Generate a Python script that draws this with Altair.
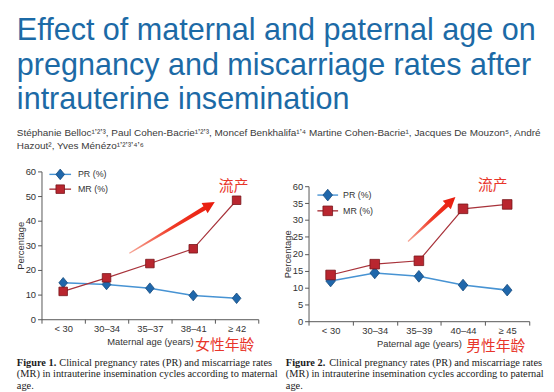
import altair as alt
import pandas as pd

# ---------------- data ----------------
series_names = ["PR (%)", "MR (%)"]

maternal_ages = ["< 30", "30–34", "35–37", "38–41", "≥ 42"]
maternal_pr = [14.8, 14.1, 12.6, 9.6, 8.5]
maternal_mr = [11.3, 16.8, 22.6, 28.6, 48.3]

paternal_ages = ["< 30", "30–34", "35–39", "40–44", "≥ 45"]
paternal_pr = [11.9, 14.3, 13.3, 10.7, 9.2]
paternal_mr = [13.7, 16.9, 17.9, 33.3, 34.6]

maternal_ticks = [0, 10, 20, 30, 40, 50, 60]
paternal_ticks = [0, 5, 10, 15, 20, 25, 30, 35, 40]   # top tick is labelled "60" (axis break)

title_lines = ["Effect of maternal and paternal age on",
               "pregnancy and miscarriage rates after",
               "intrauterine insemination"]
author_lines = ["Stéphanie Belloc¹ʼ²ʼ³, Paul Cohen-Bacrie¹ʼ²ʼ³, Moncef Benkhalifa¹ʼ⁴ Martine Cohen-Bacrie¹, Jacques De Mouzon⁵, André",
                "Hazout², Yves Ménézo¹ʼ²ʼ³ʼ⁴ʼ⁶"]
cap1_head = "Figure 1."
cap1_lines = ["Clinical pregnancy rates (PR) and miscarriage rates",
              "(MR) in intrauterine insemination cycles according to maternal",
              "age."]
cap2_head = "Figure 2."
cap2_lines = ["Clinical pregnancy rates (PR) and miscarriage rates",
              "(MR) in intrauterine insemination cycles according to paternal",
              "age."]
note_mis = "流产"
note_female = "女性年龄"
note_male = "男性年龄"

# ---------------- styles ----------------
W, H = 546, 384
SANS = "Liberation Sans"
SERIF = "Liberation Serif"
CJK = "Noto Sans CJK SC"
BLUE_T = "#1c6aa6"
AX = "#555555"
LB = "#333333"
RED = "#e8352a"
PR_LINE, PR_FILL, PR_EDGE = "#4793d3", "#1f67ab", "#164a7c"
MR_LINE, MR_FILL, MR_EDGE = "#a8323a", "#b9262f", "#76141a"
DIAMOND = "M0,-1L0.82,0L0,1L-0.82,0Z"

one = pd.DataFrame({"k": [0]})


def text_layer(text, x, y, size, color, font=SANS, weight="normal",
               align="left", baseline="alphabetic", line_height=None):
    kw = dict(text=text, fontSize=size, color=color, font=font,
              fontWeight=weight, align=align, baseline=baseline)
    if line_height is not None:
        kw["lineHeight"] = line_height
    return alt.Chart(one).mark_text(**kw).encode(x=alt.value(x), y=alt.value(y))


def panel(ages, pr, mr, x_range, y_domain, y_range, y_values, label_expr,
          x_title, x_off, y_off, d_size, s_size):
    df = pd.DataFrame({
        "age": ages + ages,
        "value": pr + mr,
        "series": [series_names[0]] * len(ages) + [series_names[1]] * len(ages),
    })
    xs = alt.Scale(type="band", domain=ages, range=x_range,
                   paddingInner=0, paddingOuter=0)
    ys = alt.Scale(domain=y_domain, range=y_range, nice=False, zero=False)
    x_axis = alt.Axis(orient="bottom", offset=x_off, title=x_title,
                      tickBand="extent", labelAngle=0, tickSize=4,
                      labelPadding=0, domainColor=AX, tickColor=AX,
                      labelColor=LB, labelFont=SANS, labelFontSize=9.5,
                      titleFont=SANS, titleFontSize=9.5,
                      titleFontWeight="normal", titleColor=LB,
                      titleY=23, titleBaseline="middle", grid=False)
    y_kw = dict(orient="left", offset=y_off, title="Percentage",
                values=y_values, tickSize=4, labelPadding=2,
                domainColor=AX, tickColor=AX, labelColor=LB, labelFont=SANS,
                labelFontSize=9.5, titleFont=SANS, titleFontSize=9.5,
                titleFontWeight="normal", titleColor=LB, titleX=-21,
                titleBaseline="middle", titleAngle=270, grid=False)
    if label_expr:
        y_kw["labelExpr"] = label_expr
    y_axis = alt.Axis(**y_kw)

    base = alt.Chart(df)
    pr_b = base.transform_filter(alt.datum.series == series_names[0])
    mr_b = base.transform_filter(alt.datum.series == series_names[1])

    def X(ax):
        return alt.X("age:N", scale=xs, axis=ax, sort=ages)

    def Y(ax):
        return alt.Y("value:Q", scale=ys, axis=ax)

    l_pr = pr_b.mark_line(color=PR_LINE, strokeWidth=1.6).encode(x=X(x_axis), y=Y(y_axis))
    l_mr = mr_b.mark_line(color=MR_LINE, strokeWidth=1.2).encode(x=X(None), y=Y(None))
    p_pr = pr_b.mark_point(shape=DIAMOND, filled=True, size=d_size, fill=PR_FILL,
                           stroke=PR_EDGE, strokeWidth=0.8, opacity=1).encode(x=X(None), y=Y(None))
    p_mr = mr_b.mark_point(shape="square", filled=True, size=s_size, fill=MR_FILL,
                           stroke=MR_EDGE, strokeWidth=0.8, opacity=1).encode(x=X(None), y=Y(None))
    return [l_pr, l_mr, p_pr, p_mr]


def legend(x0, x1, y_pr, y_mr, tx, d_size, s_size):
    out = []
    for y, lc, shape, sz, fc, ec, name in [
        (y_pr, PR_LINE, DIAMOND, d_size, PR_FILL, PR_EDGE, series_names[0]),
        (y_mr, MR_LINE, "square", s_size, MR_FILL, MR_EDGE, series_names[1]),
    ]:
        out.append(alt.Chart(one).mark_rule(color=lc, strokeWidth=1.4).encode(
            x=alt.value(x0), x2=alt.value(x1), y=alt.value(y)))
        out.append(alt.Chart(one).mark_point(shape=shape, filled=True, size=sz, fill=fc,
                                             stroke=ec, strokeWidth=0.8, opacity=1).encode(
            x=alt.value((x0 + x1) / 2), y=alt.value(y)))
        out.append(text_layer(name, tx, y, 9, LB, baseline="middle"))
    return out


def arrow(cx, cy, length, angle):
    u = 2.0 / length
    h, hw, s, t = 12 * u, 6.0 * u, 2.3 * u, 0.6 * u
    path = (f"M-1,{-t:.4f}L{1 - h:.4f},{-s:.4f}L{1 - h:.4f},{-hw:.4f}L1,0"
            f"L{1 - h:.4f},{hw:.4f}L{1 - h:.4f},{s:.4f}L-1,{t:.4f}Z")
    grad = alt.LinearGradient(gradient="linear",
                              stops=[alt.GradientStop(color="#f6a898", offset=0),
                                     alt.GradientStop(color="#f03a26", offset=0.5),
                                     alt.GradientStop(color="#e81a0c", offset=1)],
                              x1=0, x2=1, y1=0, y2=0)
    return alt.Chart(one).mark_point(shape=path, filled=True, size=length * length,
                                     fill=grad, strokeWidth=0, opacity=1,
                                     angle=angle).encode(x=alt.value(cx), y=alt.value(cy))


chart1 = panel(maternal_ages, maternal_pr, maternal_mr, [34, 254], [0, 60], [313, 163],
               maternal_ticks, None, "Maternal age (years)", 313 - H, -34, 115, 75)
chart2 = panel(paternal_ages, paternal_pr, paternal_mr, [305, 529], [0, 40], [315, 178],
               paternal_ticks, "datum.value == 40 ? '60' : datum.label",
               "Paternal age (years)", 315 - H, -305, 140, 95)

annotations = [
    text_layer(title_lines, 9, 30, 31, BLUE_T, line_height=35),
    text_layer(author_lines, 9, 127, 10.1, "#3a3a3a", line_height=13),
    *legend(42, 64, 166, 181, 71, 115, 75),
    *legend(314, 335, 187, 203, 340, 140, 95),
    arrow(166.5, 220, 101, 329.1),
    arrow(430, 211.5, 66, 316.8),
    text_layer(note_mis, 214, 178, 15, RED, font=CJK, baseline="middle"),
    text_layer(note_mis, 477, 177, 15, RED, font=CJK, baseline="middle"),
    text_layer(note_female, 190, 339, 15, RED, font=CJK, baseline="middle"),
    text_layer(note_male, 465, 340.5, 15, RED, font=CJK, baseline="middle"),
    text_layer(cap1_head, 9, 360, 10.5, "#1a1a1a", font=SERIF, weight="bold"),
    text_layer(cap1_lines[0], 52, 360, 10.5, "#1a1a1a", font=SERIF),
    text_layer(cap1_lines[1:], 9, 372, 10.5, "#1a1a1a", font=SERIF, line_height=11.5),
    text_layer(cap2_head, 282, 360, 10.5, "#1a1a1a", font=SERIF, weight="bold"),
    text_layer(cap2_lines[0], 326, 360, 10.5, "#1a1a1a", font=SERIF),
    text_layer(cap2_lines[1:], 282, 372, 10.5, "#1a1a1a", font=SERIF, line_height=11.5),
]

chart = alt.layer(*chart1, *chart2, *annotations).resolve_scale(
    x="independent", y="independent"
).properties(
    width=W, height=H, padding=0,
    autosize=alt.AutoSizeParams(type="none"),
    background="white",
).configure_view(stroke=None)

chart.save("out.html", embed_options={"renderer": "svg", "actions": False})
